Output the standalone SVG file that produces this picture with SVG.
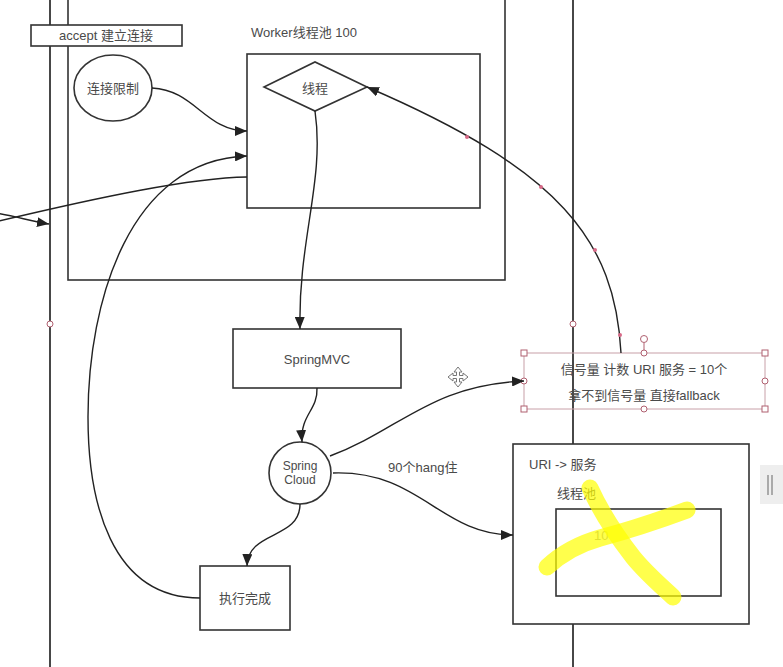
<svg xmlns="http://www.w3.org/2000/svg" width="783" height="667" viewBox="0 0 783 667">
<defs>
<style>
.shape{fill:#fff;stroke:#333;stroke-width:1.6}
.frame{fill:none;stroke:#333;stroke-width:1.6}
.conn{fill:none;stroke:#222;stroke-width:1.4}
.txt{font-family:"Liberation Sans","Noto Sans CJK SC",sans-serif;font-size:13px;fill:#4a4a4a}
.mid{text-anchor:middle}
.handle{fill:#fff;stroke:#b06070;stroke-width:1}
.dot{fill:#d86a88}
.hl{fill:none;stroke:#ffff00;stroke-opacity:0.7;stroke-width:17;stroke-linecap:round;stroke-linejoin:round}
</style>
<marker id="arr" viewBox="0 0 12 10" refX="12" refY="5" markerWidth="12" markerHeight="10" markerUnits="userSpaceOnUse" orient="auto">
<path d="M0,0 L12,5 L0,10 Z" fill="#222"/>
</marker>
</defs>
<rect width="783" height="667" fill="#fff"/>

<!-- lanes / frames -->
<g id="frames">
<line x1="50" y1="0" x2="50" y2="667" stroke="#333" stroke-width="1.8"/>
<line x1="573" y1="0" x2="573" y2="667" stroke="#333" stroke-width="1.8"/>
<rect class="frame" x="68" y="-5" width="437" height="285"/>
</g>

<g id="accept">
<rect class="shape" x="31" y="25" width="151" height="21"/>
<text class="txt mid" x="106" y="40">accept 建立连接</text>
</g>

<g id="limit">
<ellipse class="shape" cx="113" cy="88" rx="39" ry="33"/>
<text class="txt mid" x="113" y="93">连接限制</text>
</g>

<g id="worker">
<text class="txt" x="251" y="37">Worker线程池 100</text>
<rect class="shape" x="247" y="54" width="233" height="154"/>
</g>

<g id="thread">
<polygon class="shape" points="264,87 315,62 367,87 315,111"/>
<text class="txt mid" x="315" y="93">线程</text>
</g>

<g id="springmvc">
<rect class="shape" x="233" y="329" width="168" height="59"/>
<text class="txt mid" x="317" y="364">SpringMVC</text>
</g>

<g id="springcloud">
<circle class="shape" cx="300" cy="473" r="31"/>
<text class="txt mid" x="300" y="470" style="font-size:12px">Spring</text>
<text class="txt mid" x="300" y="484" style="font-size:12px">Cloud</text>
</g>

<g id="done">
<rect class="shape" x="200" y="566" width="90" height="64"/>
<text class="txt mid" x="245" y="603">执行完成</text>
</g>

<g id="semaphore">
<rect x="524" y="353" width="241" height="56" fill="none" stroke="#c8a0a8" stroke-width="1"/>
<text class="txt mid" x="644" y="374">信号量 计数 URI 服务 = 10个</text>
<text class="txt mid" x="644" y="400">拿不到信号量 直接fallback</text>
<line x1="644" y1="343" x2="644" y2="353" stroke="#b06070" stroke-width="1"/>
<circle class="handle" cx="644" cy="339" r="3.5"/>
<rect class="handle" x="521" y="350" width="6" height="6"/>
<rect class="handle" x="762" y="350" width="6" height="6"/>
<rect class="handle" x="521" y="406" width="6" height="6"/>
<rect class="handle" x="762" y="406" width="6" height="6"/>
<circle class="handle" cx="644" cy="353" r="3"/>
<circle class="handle" cx="644" cy="409" r="3"/>
<circle class="handle" cx="524" cy="381" r="3"/>
<circle class="handle" cx="765" cy="381" r="3"/>
</g>

<g id="uriservice">
<rect class="shape" x="513" y="444" width="236" height="180"/>
<text class="txt" x="529" y="469">URI -&gt; 服务</text>
<text class="txt" x="557" y="498">线程池</text>
<rect class="shape" x="556" y="509" width="165" height="87"/>
<text class="txt" x="594" y="540" style="fill:#999">10</text>
</g>

<g id="connectors">
<path class="conn" d="M152,88 C195,90 205,131 247,131" marker-end="url(#arr)"/>
<path class="conn" d="M200,598 C110,598 88,500 88,417 C88,300 130,160 247,156" marker-end="url(#arr)"/>
<path class="conn" d="M247,177 C190,178 100,197 -5,222"/>
<path class="conn" d="M-5,213 C15,216 30,221 49,224" marker-end="url(#arr)"/>
<path class="conn" d="M315,111 C325,180 298,240 300,329" marker-end="url(#arr)"/>
<path class="conn" d="M317,388 C318,410 300,415 302,442" marker-end="url(#arr)"/>
<path class="conn" d="M300,504 C300,540 248,530 247,566" marker-end="url(#arr)"/>
<path class="conn" d="M330,456 C400,430 430,385 524,381" marker-end="url(#arr)"/>
<path class="conn" d="M333,473 C420,470 440,535 513,535" marker-end="url(#arr)"/>
<text class="txt" x="388" y="472">90个hang住</text>
<path class="conn" d="M621,353 C615,240 560,170 367,87" marker-end="url(#arr)"/>
<circle class="dot" cx="467" cy="137" r="2"/>
<circle class="dot" cx="541" cy="187" r="2"/>
<circle class="dot" cx="595" cy="250" r="2"/>
<circle class="dot" cx="620" cy="335" r="2"/>
</g>

<g id="lane-handles">
<circle class="handle" cx="50" cy="324" r="3"/>
<circle class="handle" cx="573" cy="324" r="3"/>
</g>

<g id="highlight">
<path class="hl" d="M590,488 C600,510 612,530 633,557 C645,572 660,585 673,597"/>
<path class="hl" d="M547,567 C560,555 575,545 600,538 C630,530 660,520 687,510"/>
</g>

<g id="ui">
<g transform="translate(458,377)" fill="#fff" stroke="#777" stroke-width="1">
<path d="M0,-10 L4,-5 L1.5,-5 L1.5,-1.5 L5,-1.5 L5,-4 L10,0 L5,4 L5,1.5 L1.5,1.5 L1.5,5 L4,5 L0,10 L-4,5 L-1.5,5 L-1.5,1.5 L-5,1.5 L-5,4 L-10,0 L-5,-4 L-5,-1.5 L-1.5,-1.5 L-1.5,-5 L-4,-5 Z"/>
</g>
<rect x="760" y="465" width="23" height="39" fill="#eeeeee"/>
<rect x="767" y="475" width="2" height="20" fill="#aaa"/>
<rect x="771" y="475" width="2" height="20" fill="#aaa"/>
</g>
</svg>
